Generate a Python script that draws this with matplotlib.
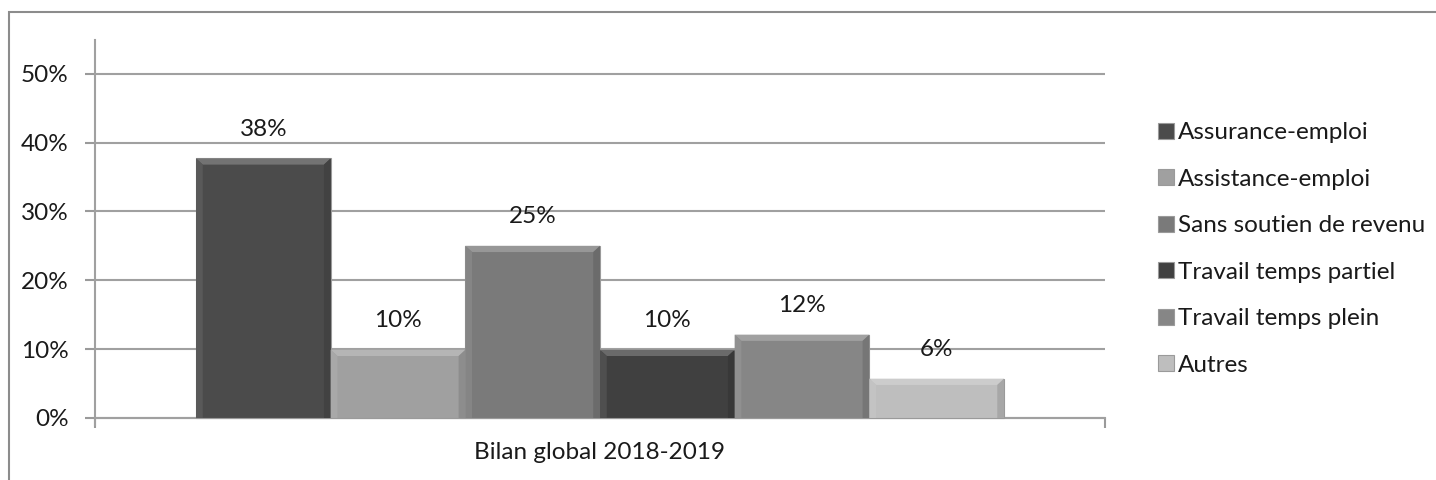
import numpy as np
import matplotlib
matplotlib.use("Agg")
import matplotlib.pyplot as plt
from matplotlib.patches import Polygon, Rectangle
from matplotlib.ticker import PercentFormatter

# --- DONNÉES ---
categorie = "Bilan global 2018-2019"
series = ["Assurance-emploi", "Assistance-emploi", "Sans soutien de revenu",
          "Travail temps partiel", "Travail temps plein", "Autres"]
valeurs = [0.377, 0.099, 0.25, 0.099, 0.121, 0.057]
etiquettes = ["38%", "10%", "25%", "10%", "12%", "6%"]
couleurs = ["#4b4b4b", "#a0a0a0", "#7a7a7a", "#404040", "#868686", "#bebebe"]
yticks = [0, 0.1, 0.2, 0.3, 0.4, 0.5]

plt.rcParams["font.family"] = ["Lato", "DejaVu Sans"]
FS = 17.5

fig = plt.figure(figsize=(14.36, 4.8), dpi=100)
ax = fig.add_axes([95 / 1436, 1 - 425 / 480, 1010 / 1436, 385 / 480])

# cadre du graphique
fig.patches.append(Rectangle((9 / 1436, -0.2), 1.2, 1.2 - 12 / 480,
                             transform=fig.transFigure, fill=False,
                             edgecolor="#8c8c8c", linewidth=1.5, zorder=0))


def mix(c, f):
    rgb = np.array(matplotlib.colors.to_rgb(c))
    if f > 0:
        return tuple(rgb + (1 - rgb) * f)
    return tuple(rgb * (1 + f))


n = len(valeurs)
pos = np.arange(n) - (n - 1) / 2
bars = ax.bar(pos, valeurs, width=1.0, color=couleurs, edgecolor="#9a9a9a",
              linewidth=0.8, zorder=3)

# effet biseau
bx, by = 0.05, 0.009
for b, c in zip(bars, couleurs):
    x0, y0 = b.get_x(), b.get_y()
    x1, y1 = x0 + b.get_width(), y0 + b.get_height()
    faces = [
        ([(x0, y1), (x1, y1), (x1 - bx, y1 - by), (x0 + bx, y1 - by)], 0.22),
        ([(x0, y0), (x0, y1), (x0 + bx, y1 - by), (x0 + bx, y0)], 0.08),
        ([(x1, y0), (x1, y1), (x1 - bx, y1 - by), (x1 - bx, y0)], -0.12),
    ]
    for pts, f in faces:
        ax.add_patch(Polygon(pts, closed=True, facecolor=mix(c, f),
                             edgecolor="none", zorder=4))

for b, lab in zip(bars, etiquettes):
    ax.annotate(lab, (b.get_x() + b.get_width() / 2, b.get_height()),
                xytext=(0, 21), textcoords="offset points",
                ha="center", va="center", fontsize=FS, color="#1a1a1a")

ax.set_xlim(-3.75, 3.75)
ax.set_ylim(-0.0102, 0.549)
ax.set_yticks(yticks)
ax.yaxis.set_major_formatter(PercentFormatter(1.0, decimals=0))
ax.tick_params(axis="y", length=7, width=1.5, color="#9a9a9a", pad=12,
               labelsize=FS, labelcolor="#1a1a1a")
ax.set_xticks([-3.75, 3.75])
ax.set_xticklabels(["", ""])
ax.tick_params(axis="x", length=7, width=1.5, color="#9a9a9a")
ax.grid(axis="y", color="#a0a0a0", linewidth=1.5, zorder=1)
ax.set_axisbelow(True)
for s in ["top", "right"]:
    ax.spines[s].set_visible(False)
ax.spines["bottom"].set_position(("data", 0))
ax.spines["bottom"].set_color("#a0a0a0")
ax.spines["bottom"].set_linewidth(1.5)
ax.spines["left"].set_color("#a0a0a0")
ax.spines["left"].set_linewidth(1.5)

ax.text(0, -0.05, categorie, ha="center", va="center", fontsize=FS,
        color="#1a1a1a")

handles = [Rectangle((0, 0), 1, 1, facecolor=c, edgecolor="#9a9a9a",
                     linewidth=0.8) for c in couleurs]
fig.legend(handles, series, loc="center left",
           bbox_to_anchor=(1146 / 1436, 1 - 249 / 480), frameon=False,
           fontsize=FS, handlelength=0.65, handleheight=0.65,
           handletextpad=0.15, labelspacing=1.05, borderpad=0,
           labelcolor="#1a1a1a")

fig.savefig("out.png", dpi=100)
